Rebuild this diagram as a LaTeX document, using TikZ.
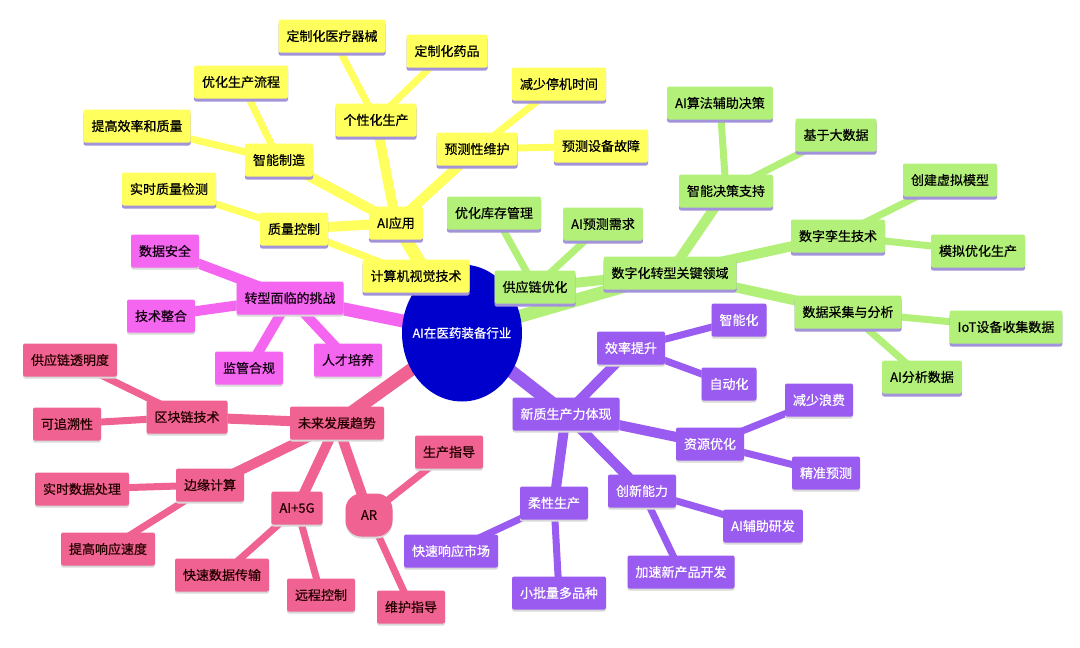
\documentclass[tikz,border=0pt]{standalone}
\usepackage{fontspec}
\setmainfont{Noto Sans CJK SC}[FakeBold=0.6]
\usetikzlibrary{shapes.geometric,shadows,backgrounds}
\definecolor{colY}{HTML}{FFFF5E}
\definecolor{colG}{HTML}{B3F07A}
\definecolor{colM}{HTML}{F566F0}
\definecolor{colP}{HTML}{F06292}
\definecolor{colV}{HTML}{9A5CF0}
\definecolor{colB}{HTML}{0000CC}
\definecolor{colS}{HTML}{A393DA}
\begin{document}
\begin{tikzpicture}[x=1pt,y=-1pt,font=\fontsize{13}{15}\selectfont,
    box/.style={rounded corners=2pt,minimum height=33pt,inner xsep=8pt,inner ysep=0pt},
    lit/.style={box,drop shadow={shadow xshift=0pt,shadow yshift=-3pt,fill=colS,opacity=1}},
    dim/.style={box,drop shadow={shadow xshift=0pt,shadow yshift=-2pt,fill=black!15,opacity=1}},
    yb/.style={lit,fill=colY},
    gb/.style={lit,fill=colG},
    mb/.style={dim,fill=colM,text=black!85!violet},
    pb/.style={dim,fill=colP,text=black!85!red},
    vb/.style={dim,fill=colV,text=white}]
  \useasboundingbox (0,0) rectangle (1080,648);
  \node[ellipse,fill=colB,minimum width=120pt,minimum height=137pt,inner sep=0pt,
    label={[text=white,font=\fontsize{12.5}{15}\selectfont]center:AI在医药装备行业}] (c) at (462,333) {};

  \node[yb] (ai) at (396,223) {AI应用};
  \node[yb] (cvt) at (416,276) {计算机视觉技术};
  \node[yb] (qc) at (294,229) {质量控制};
  \node[yb] (rt) at (169,189) {实时质量检测};
  \node[yb] (im) at (279,160) {智能制造};
  \node[yb] (ef) at (137,126) {提高效率和质量};
  \node[yb] (op) at (241,82) {优化生产流程};
  \node[yb] (pp) at (376,120) {个性化生产};
  \node[yb] (md) at (332,36) {定制化医疗器械};
  \node[yb] (dr) at (447,51) {定制化药品};
  \node[yb] (pm) at (477,149) {预测性维护};
  \node[yb] (dt) at (559,84) {减少停机时间};
  \node[yb] (pf) at (601,146) {预测设备故障};

  \node[gb] (dx) at (670,273) {数字化转型关键领域};
  \node[gb] (sc) at (535,287) {供应链优化};
  \node[gb] (inv) at (494,213) {优化库存管理};
  \node[gb] (fd) at (603,224) {AI预测需求};
  \node[gb] (ds) at (726,191) {智能决策支持};
  \node[gb] (aa) at (720,103) {AI算法辅助决策};
  \node[gb] (bd) at (836,135) {基于大数据};
  \node[gb] (tw) at (838,236) {数字孪生技术};
  \node[gb] (vm) at (950,180) {创建虚拟模型};
  \node[gb] (so) at (978,251) {模拟优化生产};
  \node[gb] (da) at (848,312) {数据采集与分析};
  \node[gb] (iot) at (1006,327) {IoT设备收集数据};
  \node[gb] (an) at (922,377) {AI分析数据};

  \node[mb] (ch) at (290,298) {转型面临的挑战};
  \node[mb] (sec) at (165,251) {数据安全};
  \node[mb] (ti) at (161,316) {技术整合};
  \node[mb] (rc) at (249,368) {监管合规};
  \node[mb] (tal) at (348,360) {人才培养};

  \node[pb] (ft) at (337,423) {未来发展趋势};
  \node[pb] (bc) at (187,417) {区块链技术};
  \node[pb] (tr) at (70,360) {供应链透明度};
  \node[pb] (trc) at (67,424) {可追溯性};
  \node[pb] (ec) at (210,485) {边缘计算};
  \node[pb] (rdp) at (82,489) {实时数据处理};
  \node[pb] (rs) at (108,549) {提高响应速度};
  \node[pb] (g5) at (297,508) {AI+5G};
  \node[pb] (fx) at (222,575) {快速数据传输};
  \node[pb] (rm) at (321,595) {远程控制};
  \node[pb,rounded corners=16pt,minimum width=47pt,minimum height=43pt,inner xsep=0pt] (ar) at (369,515) {AR};
  \node[pb] (pg) at (449,452) {生产指导};
  \node[pb] (mg) at (411,607) {维护指导};

  \node[vb] (nq) at (566,414) {新质生产力体现};
  \node[vb] (ei) at (631,348) {效率提升};
  \node[vb] (sm) at (739,320) {智能化};
  \node[vb] (au) at (729,384) {自动化};
  \node[vb] (ro) at (710,444) {资源优化};
  \node[vb] (rw) at (819,400) {减少浪费};
  \node[vb] (pr) at (826,473) {精准预测};
  \node[vb] (inn) at (642,491) {创新能力};
  \node[vb] (rdv) at (763,526) {AI辅助研发};
  \node[vb] (np) at (681,572) {加速新产品开发};
  \node[vb] (fp) at (554,503) {柔性生产};
  \node[vb] (qm) at (451,551) {快速响应市场};
  \node[vb] (sb) at (559,593) {小批量多品种};

  \begin{scope}[on background layer]
    \foreach \k/\col in {ai/colY,dx/colG,ch/colM,ft/colP,nq/colV}
      \draw[draw=\col,line width=13pt] (c.center) -- (\k.center);
    \foreach \a/\b/\col in {ai/qc/colY,ai/im/colY,ai/pp/colY,ai/pm/colY,
        dx/sc/colG,dx/ds/colG,dx/tw/colG,dx/da/colG,
        ch/sec/colM,ch/ti/colM,ch/rc/colM,ch/tal/colM,
        ft/bc/colP,ft/ec/colP,ft/g5/colP,ft/ar/colP,
        nq/ei/colV,nq/ro/colV,nq/inn/colV,nq/fp/colV}
      \draw[draw=\col,line width=10pt] (\a.center) -- (\b.center);
    \foreach \a/\b/\col in {qc/rt/colY,qc/cvt/colY,im/ef/colY,im/op/colY,pp/md/colY,pp/dr/colY,pm/dt/colY,pm/pf/colY,
        sc/inv/colG,sc/fd/colG,ds/aa/colG,ds/bd/colG,tw/vm/colG,tw/so/colG,da/iot/colG,da/an/colG,
        bc/tr/colP,bc/trc/colP,ec/rdp/colP,ec/rs/colP,g5/fx/colP,g5/rm/colP,ar/pg/colP,ar/mg/colP,
        ei/sm/colV,ei/au/colV,ro/rw/colV,ro/pr/colV,inn/rdv/colV,inn/np/colV,fp/qm/colV,fp/sb/colV}
      \draw[draw=\col,line width=7pt] (\a.center) -- (\b.center);
  \end{scope}
\end{tikzpicture}
\end{document}
